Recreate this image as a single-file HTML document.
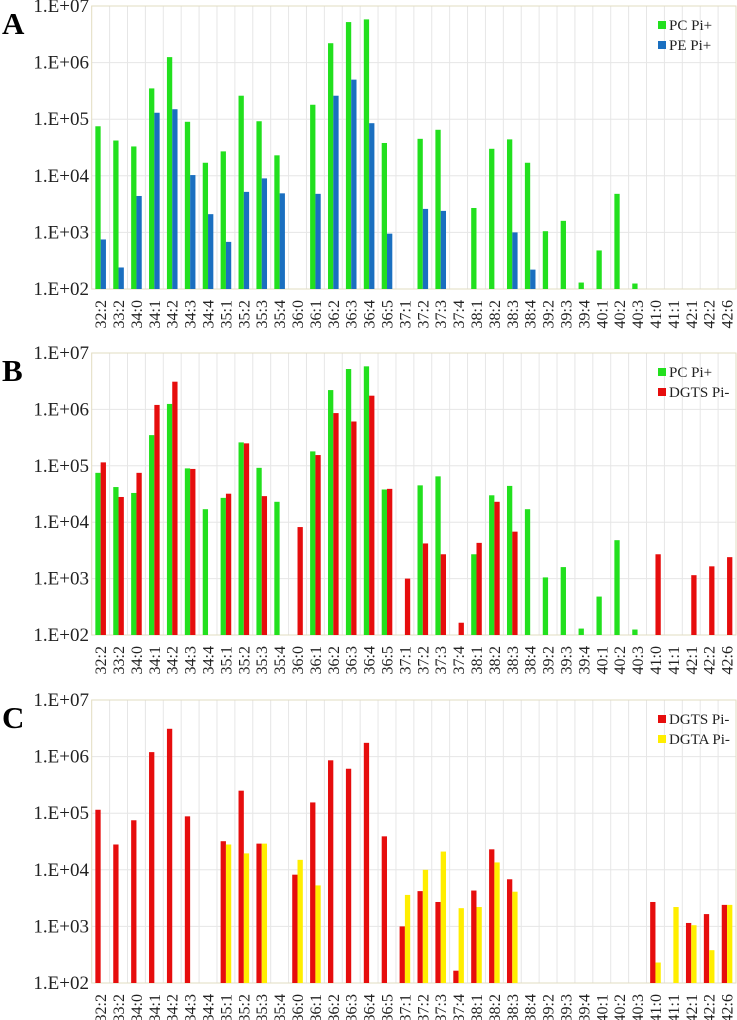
<!DOCTYPE html>
<html><head><meta charset="utf-8"><style>
html,body{margin:0;padding:0;background:#fff;}
svg{display:block;font-family:"Liberation Serif",serif;}
</style></head><body>
<svg id="chart" width="737" height="1020" viewBox="0 0 737 1020" xmlns="http://www.w3.org/2000/svg"></svg>
<script>
const categories=["32:2","33:2","34:0","34:1","34:2","34:3","34:4","35:1","35:2","35:3","35:4","36:0","36:1","36:2","36:3","36:4","36:5","37:1","37:2","37:3","37:4","38:1","38:2","38:3","38:4","39:2","39:3","39:4","40:1","40:2","40:3","41:0","41:1","42:1","42:2","42:6"];
const pcPi=[7.5e4,4.2e4,3.3e4,3.5e5,1.25e6,9e4,1.7e4,2.7e4,2.6e5,9.2e4,2.3e4,0,1.8e5,2.2e6,5.2e6,5.8e6,3.8e4,0,4.5e4,6.5e4,0,2.7e3,3e4,4.4e4,1.7e4,1.05e3,1.6e3,130,480,4.8e3,125,0,0,0,0,0];
const pePi=[750,240,4.4e3,1.3e5,1.5e5,1.03e4,2.1e3,680,5.2e3,9e3,4.9e3,0,4.8e3,2.6e5,5e5,8.5e4,950,0,2.6e3,2.4e3,0,0,0,1e3,220,0,0,0,0,0,0,0,0,0,0,0];
const dgtsPi=[1.15e5,2.8e4,7.5e4,1.2e6,3.1e6,8.8e4,0,3.2e4,2.5e5,2.9e4,0,8.2e3,1.55e5,8.6e5,6.1e5,1.75e6,3.9e4,1e3,4.2e3,2.7e3,165,4.3e3,2.3e4,6.8e3,0,0,0,0,0,0,0,2.7e3,0,1.15e3,1.65e3,2.4e3];
const dgtaPi=[0,0,0,0,0,0,0,2.8e4,1.95e4,2.9e4,0,1.5e4,5.3e3,0,0,0,0,3.6e3,1e4,2.1e4,2.1e3,2.2e3,1.35e4,4.1e3,0,0,0,0,0,0,0,230,2.2e3,1.05e3,380,2.4e3];
const yTicks=["1.E+02","1.E+03","1.E+04","1.E+05","1.E+06","1.E+07"];

const NS="http://www.w3.org/2000/svg";
const svg=document.getElementById('chart');
function mk(tag,attrs,parent){const e=document.createElementNS(NS,tag);for(const k in attrs)e.setAttribute(k,attrs[k]);(parent||svg).appendChild(e);return e;}
const L=91.7,R=736;
const panels=[
 {letter:"A",top:6,bot:289,series:[{name:"PC Pi+",vals:pcPi,color:"#22e01e"},{name:"PE Pi+",vals:pePi,color:"#1a6fc0"}]},
 {letter:"B",top:353,bot:635,series:[{name:"PC Pi+",vals:pcPi,color:"#22e01e"},{name:"DGTS Pi-",vals:dgtsPi,color:"#e60d0d"}]},
 {letter:"C",top:700,bot:983,series:[{name:"DGTS Pi-",vals:dgtsPi,color:"#e60d0d"},{name:"DGTA Pi-",vals:dgtaPi,color:"#ffee00"}]}
];
const cw=(R-L)/categories.length, bw=5.3;
panels.forEach((p,pi)=>{
  const g=mk('g',{});
  
  
  const y=v=>p.bot-(Math.log10(v)-2)/5*(p.bot-p.top);
  const x=i=>L+i*cw;
  for(let i=1;i<categories.length;i++){const l=mk('line',{x1:x(i),x2:x(i),y1:p.top,y2:p.bot,stroke:'#e6e6e6','stroke-width':1},g);}
  yTicks.forEach((t,k)=>{
    const yy=p.bot-k*(p.bot-p.top)/5;
    if(k>0&&k<5){const l=mk('line',{x1:L,x2:R,y1:yy,y2:yy,stroke:'#e6e6e6','stroke-width':1},g);}
    const tx=mk('text',{x:89,y:yy+6,'text-anchor':'end','font-size':19,fill:'#222'},g);tx.textContent=t;
    
    
  });
  const fr=mk('rect',{x:L,y:p.top,width:R-L,height:p.bot-p.top,fill:'none',stroke:'#e2dcc0','stroke-width':1},g);
  
  
  p.series.forEach((s,si)=>{
    s.vals.forEach((v,i)=>{
      if(!(v>100))return;
      const cx=x(i)+cw/2;
      const r=mk('rect',{x:cx-bw+si*bw,y:y(v),width:bw,height:p.bot-y(v),fill:s.color},g);
      
      
    });
  });
  categories.forEach((c,i)=>{
    const cx=x(i)+cw/2+5.5, ty=p.bot+11;
    const t=mk('text',{x:0,y:0,transform:`translate(${cx},${ty}) rotate(-90)`,'text-anchor':'end','font-size':16,fill:'#222'},g);
    t.textContent=c;
    
    
  });
  const lt=mk('text',{x:2,y:p.top+28,'font-size':31,'font-weight':'bold',fill:'#000'},g);
  lt.textContent=p.letter;
  
  
  p.series.forEach((s,si)=>{
    const ly=p.top+20+si*20;
    const sq=mk('rect',{x:658,y:ly-5,width:8,height:8,fill:s.color},g);
    
    
    const lt2=mk('text',{x:669,y:ly+4,'font-size':15,fill:'#222'},g);
    lt2.textContent=s.name;
    
    
  });
});
</script>
</body></html>
